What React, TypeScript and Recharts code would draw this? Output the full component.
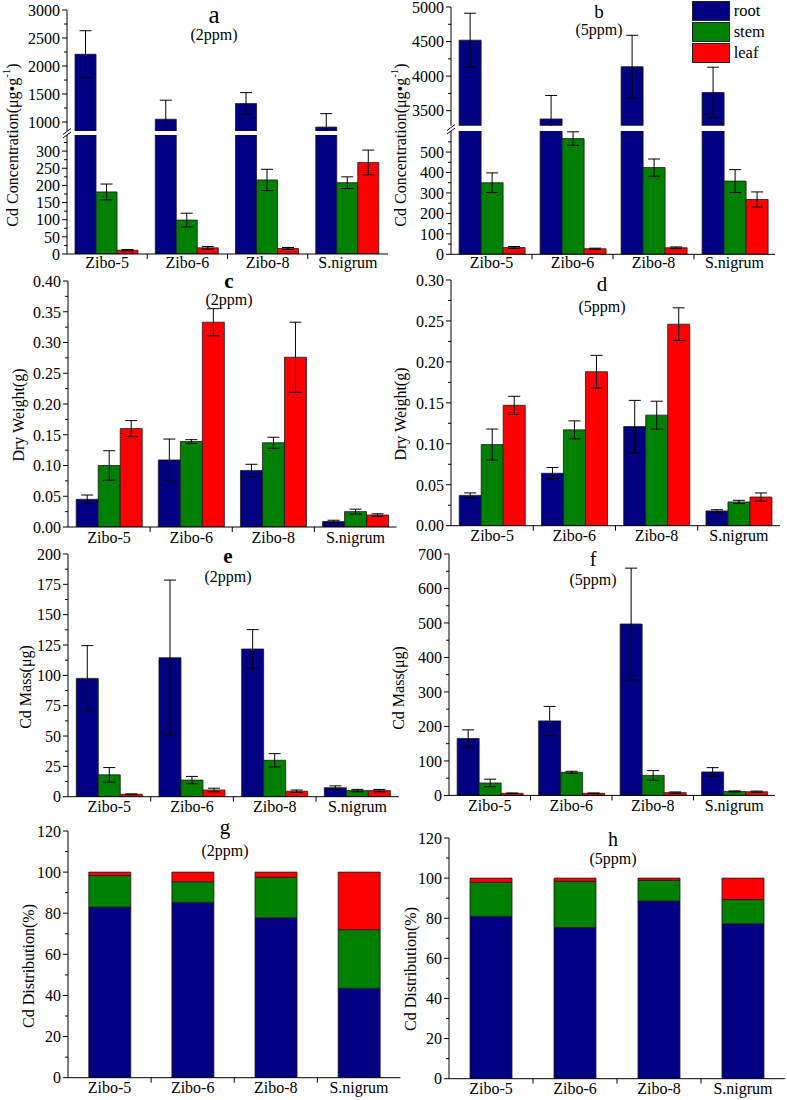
import React from "react";
import { BarChart, Bar, XAxis, YAxis, ErrorBar, Legend } from "recharts";

const FONT = '"Liberation Serif", "Times New Roman", serif';
const NAVY = "#000080";
const GREEN = "#008000";
const RED = "#ff0000";

const categories = ["Zibo-5", "Zibo-6", "Zibo-8", "S.nigrum"];

// a: Cd concentration, 2ppm (µg/g)
const concRoot2 = [2210, 1050, 1330, 910];
const concRoot2Err = [420, 340, 195, 240];
const concStem2 = [181, 99, 216, 208];
const concStem2Err = [23, 20, 31, 17];
const concLeaf2 = [11, 18, 16, 267];
const concLeaf2Err = [2, 4, 3, 36];

// b: Cd concentration, 5ppm
const concRoot5 = [4520, 3380, 4136, 3764];
const concRoot5Err = [390, 340, 455, 365];
const concStem5 = [350, 566, 424, 358];
const concStem5Err = [48, 33, 42, 56];
const concLeaf5 = [33, 27, 32, 268];
const concLeaf5Err = [5, 3, 4, 37];

// c / d: dry weight (g)
const dwRoot2 = [0.045, 0.109, 0.092, 0.009];
const dwRoot2Err = [0.007, 0.034, 0.01, 0.002];
const dwStem2 = [0.1, 0.139, 0.137, 0.025];
const dwStem2Err = [0.024, 0.003, 0.009, 0.004];
const dwLeaf2 = [0.16, 0.333, 0.276, 0.0195];
const dwLeaf2Err = [0.013, 0.022, 0.057, 0.002];

const dwRoot5 = [0.037, 0.064, 0.121, 0.018];
const dwRoot5Err = [0.003, 0.007, 0.032, 0.0015];
const dwStem5 = [0.099, 0.117, 0.135, 0.029];
const dwStem5Err = [0.019, 0.011, 0.017, 0.002];
const dwLeaf5 = [0.147, 0.188, 0.246, 0.035];
const dwLeaf5Err = [0.011, 0.02, 0.02, 0.005];

// e / f: Cd mass (µg)
const massRoot2 = [97.5, 114.5, 121.7, 7.4];
const massRoot2Err = [27, 64, 16, 1.5];
const massStem2 = [18, 13.7, 30, 5];
const massStem2Err = [6, 3, 5.5, 1];
const massLeaf2 = [2, 5.5, 4.5, 5];
const massLeaf2Err = [0.3, 1.5, 1, 1];

const massRoot5 = [165, 216, 497, 68];
const massRoot5Err = [25, 42, 162, 12.5];
const massStem5 = [36, 67, 58, 11.5];
const massStem5Err = [11, 3, 14, 1.5];
const massLeaf5 = [6, 6, 8, 10.5];
const massLeaf5Err = [1, 1, 2, 2];

// g / h: Cd distribution (%)
const distRoot2 = [83, 85.3, 77.8, 43.5];
const distStem2 = [15.3, 10, 19.7, 28.5];
const distLeaf2 = [1.7, 4.7, 2.5, 28];
const distRoot5 = [81, 75.4, 88.6, 77.3];
const distStem5 = [16.9, 23, 10.3, 12];
const distLeaf5 = [2.1, 1.6, 1.1, 10.7];

// tick labels
const ticksAUp = [1000, 1500, 2000, 2500, 3000];
const minorAUp = [1250, 1750, 2250, 2750];
const ticksALo = [0, 50, 100, 150, 200, 250, 300];
const minorALo = [25, 75, 125, 175, 225, 275, 325];
const ticksBUp = [3500, 4000, 4500, 5000];
const minorBUp = [3750, 4250, 4750];
const ticksBLo = [0, 100, 200, 300, 400, 500];
const minorBLo = [50, 150, 250, 350, 450, 550];
const ticksC = [0, 0.05, 0.1, 0.15, 0.2, 0.25, 0.3, 0.35, 0.4];
const minorC = [0.025, 0.075, 0.125, 0.175, 0.225, 0.275, 0.325, 0.375];
const ticksD = [0, 0.05, 0.1, 0.15, 0.2, 0.25, 0.3];
const minorD = [0.025, 0.075, 0.125, 0.175, 0.225, 0.275];
const ticksE = [0, 25, 50, 75, 100, 125, 150, 175, 200];
const minorE = [12.5, 37.5, 62.5, 87.5, 112.5, 137.5, 162.5, 187.5];
const ticksF = [0, 100, 200, 300, 400, 500, 600, 700];
const minorF = [50, 150, 250, 350, 450, 550, 650];
const ticksPct = [0, 20, 40, 60, 80, 100, 120];
const minorPct = [10, 30, 50, 70, 90, 110];

const SERIES = [
  { key: "root", name: "root", color: NAVY },
  { key: "stem", name: "stem", color: GREEN },
  { key: "leaf", name: "leaf", color: RED }
];

const rows = (r?: number[], s?: number[], l?: number[], re?: number[], se?: number[], le?: number[]) =>
  categories.map((cat, i) => ({
    cat,
    root: r ? r[i] : undefined,
    stem: s ? s[i] : undefined,
    leaf: l ? l[i] : undefined,
    rootErr: re ? re[i] : undefined,
    stemErr: se ? se[i] : undefined,
    leafErr: le ? le[i] : undefined
  }));

const YW = 60;
const PT = 12;
const PR = 2;
const XH = 28;

function yTick(majors: number[], fmt: (v: number) => string) {
  return (props: any) => {
    const { x, y, payload } = props;
    const ax = x + 8;
    const major = majors.includes(payload.value);
    return (
      <g>
        <line x1={ax - (major ? 5 : 3)} x2={ax} y1={y} y2={y} stroke="#000" strokeWidth={1} />
        {major && (
          <text x={ax - 7} y={y} dy="0.36em" textAnchor="end" fontSize={16} fontFamily={FONT} fill="#000">
            {fmt(payload.value)}
          </text>
        )}
      </g>
    );
  };
}

function xTick(band: number, gap: number) {
  return (props: any) => {
    const { x, y, payload, index } = props;
    const ay = y - gap;
    return (
      <g>
        {index > 0 && <line x1={x - band / 2} x2={x - band / 2} y1={ay} y2={ay + 5} stroke="#000" />}
        <text x={x} y={y - 0.8} dy="0.71em" textAnchor="middle" fontSize={16} fontFamily={FONT} fill="#000">
          {payload.value}
        </text>
      </g>
    );
  };
}

type Rect = { L: number; T: number; R: number; B: number };

function LegendBox(props: any) {
  const order = SERIES.map((s) => s.name);
  const items = [...(props.payload || [])].sort(
    (p: any, q: any) => order.indexOf(p.value) - order.indexOf(q.value)
  );
  return (
    <div style={{ fontFamily: FONT, fontSize: 16.5, lineHeight: 1 }}>
      {items.map((it: any) => (
        <div key={it.value} style={{ display: "flex", alignItems: "center", height: 21 }}>
          <div
            style={{
              width: 38,
              height: 19.5,
              background: it.color,
              border: "1px solid #222",
              boxSizing: "border-box"
            }}
          />
          <span style={{ marginLeft: 4 }}>{it.value}</span>
        </div>
      ))}
    </div>
  );
}

function Panel({
  rect,
  data,
  domain,
  majors,
  minors,
  fmt = (v: number) => String(v),
  errKeys = [],
  stacked = false,
  showX = true,
  xGap = 5,
  legendAt
}: {
  rect: Rect;
  data: any[];
  domain: [number, number];
  majors: number[];
  minors: number[];
  fmt?: (v: number) => string;
  errKeys?: (string | null)[];
  stacked?: boolean;
  showX?: boolean;
  xGap?: number;
  legendAt?: { x: number; y: number };
}) {
  const width = rect.R - rect.L + YW + PR;
  const height = rect.B - rect.T + PT + (showX ? XH : 0);
  const band = (rect.R - rect.L) / categories.length;
  const left = rect.L - YW;
  const top = rect.T - PT;
  return (
    <div style={{ position: "absolute", left, top, width, height }}>
      <BarChart
        width={width}
        height={height}
        data={data}
        margin={{ top: PT, right: PR, left: 0, bottom: 0 }}
        barGap={0}
        barCategoryGap={stacked ? "25%" : "10%"}
      >
        <XAxis
          dataKey="cat"
          hide={!showX}
          height={XH}
          axisLine={{ stroke: "#000" }}
          tickLine={false}
          tickSize={0}
          tickMargin={xGap}
          interval={0}
          tick={xTick(band, xGap)}
        />
        <YAxis
          width={YW}
          type="number"
          domain={domain}
          allowDataOverflow
          ticks={[...majors, ...minors]}
          interval={0}
          axisLine={{ stroke: "#000" }}
          tickLine={false}
          tickSize={0}
          tickMargin={8}
          tick={yTick(majors, fmt)}
        />
        {legendAt && (
          <Legend
            layout="horizontal"
            verticalAlign="middle"
            align="center"
            wrapperStyle={{ top: legendAt.y - top, left: legendAt.x - left, width: 95 }}
            content={(p: any) => <LegendBox payload={p.payload} />}
          />
        )}
        {SERIES.map((s, i) => (
          <Bar
            key={s.key}
            dataKey={s.key}
            name={s.name}
            fill={s.color}
            stroke="#1a1a1a"
            strokeWidth={0.8}
            stackId={stacked ? "dist" : undefined}
            isAnimationActive={false}
          >
            {errKeys[i] ? (
              <ErrorBar dataKey={errKeys[i] as string} width={6} stroke="#000" strokeWidth={1} direction="y" />
            ) : null}
          </Bar>
        ))}
      </BarChart>
    </div>
  );
}

const ERR = ["rootErr", "stemErr", "leafErr"];
const fmt2 = (v: number) => v.toFixed(2);

function Title({ x, letter, sub, yl, ys, bold = false, size = 21 }: any) {
  return (
    <g fontFamily={FONT} fill="#000" textAnchor="middle">
      <text x={x} y={yl} fontSize={size} fontWeight={bold ? "bold" : "normal"}>
        {letter}
      </text>
      <text x={x} y={ys} fontSize={16}>
        {sub}
      </text>
    </g>
  );
}

function YLabel({ x, y, children }: any) {
  return (
    <text
      x={x}
      y={y}
      transform={`rotate(-90, ${x}, ${y})`}
      textAnchor="middle"
      dominantBaseline="central"
      fontFamily={FONT}
      fontSize={16}
      fill="#000"
    >
      {children}
    </text>
  );
}

export default function App() {
  return (
    <div
      style={{
        position: "absolute",
        left: 0,
        top: 0,
        width: 787,
        height: 1100,
        background: "#fff",
        overflow: "hidden",
        fontFamily: FONT
      }}
    >
      {/* a */}
      <Panel
        rect={{ L: 67, T: 10, R: 388, B: 131 }}
        data={rows(concRoot2, undefined, undefined, concRoot2Err)}
        domain={[840, 3000]}
        majors={ticksAUp}
        minors={minorAUp}
        errKeys={["rootErr", null, null]}
        showX={false}
      />
      <Panel
        rect={{ L: 67, T: 135, R: 388, B: 254 }}
        data={rows(concRoot2, concStem2, concLeaf2, undefined, concStem2Err, concLeaf2Err)}
        domain={[0, 347]}
        majors={ticksALo}
        minors={minorALo}
        errKeys={[null, "stemErr", "leafErr"]}
        xGap={3}
      />
      {/* b */}
      <Panel
        rect={{ L: 451, T: 7.3, R: 775, B: 126 }}
        data={rows(concRoot5, undefined, undefined, concRoot5Err)}
        domain={[3283, 5000]}
        majors={ticksBUp}
        minors={minorBUp}
        errKeys={["rootErr", null, null]}
        showX={false}
        legendAt={{ x: 691.7, y: 0.5 }}
      />
      <Panel
        rect={{ L: 451, T: 130.7, R: 775, B: 254 }}
        data={rows(concRoot5, concStem5, concLeaf5, undefined, concStem5Err, concLeaf5Err)}
        domain={[0, 603]}
        majors={ticksBLo}
        minors={minorBLo}
        errKeys={[null, "stemErr", "leafErr"]}
        xGap={3}
      />
      {/* c */}
      <Panel
        rect={{ L: 67.5, T: 280.7, R: 396, B: 526.7 }}
        data={rows(dwRoot2, dwStem2, dwLeaf2, dwRoot2Err, dwStem2Err, dwLeaf2Err)}
        domain={[0, 0.4]}
        majors={ticksC}
        minors={minorC}
        fmt={fmt2}
        errKeys={ERR}
      />
      {/* d */}
      <Panel
        rect={{ L: 451, T: 280, R: 780, B: 525.7 }}
        data={rows(dwRoot5, dwStem5, dwLeaf5, dwRoot5Err, dwStem5Err, dwLeaf5Err)}
        domain={[0, 0.3]}
        majors={ticksD}
        minors={minorD}
        fmt={fmt2}
        errKeys={ERR}
      />
      {/* e */}
      <Panel
        rect={{ L: 67.7, T: 554, R: 398.5, B: 796.7 }}
        data={rows(massRoot2, massStem2, massLeaf2, massRoot2Err, massStem2Err, massLeaf2Err)}
        domain={[0, 200]}
        majors={ticksE}
        minors={minorE}
        errKeys={ERR}
      />
      {/* f */}
      <Panel
        rect={{ L: 449, T: 554.3, R: 775, B: 795.7 }}
        data={rows(massRoot5, massStem5, massLeaf5, massRoot5Err, massStem5Err, massLeaf5Err)}
        domain={[0, 700]}
        majors={ticksF}
        minors={minorF}
        errKeys={ERR}
      />
      {/* g */}
      <Panel
        rect={{ L: 67.5, T: 831, R: 400, B: 1077.7 }}
        data={rows(distRoot2, distStem2, distLeaf2)}
        domain={[0, 120]}
        majors={ticksPct}
        minors={minorPct}
        stacked
      />
      {/* h */}
      <Panel
        rect={{ L: 449, T: 838.3, R: 785, B: 1079 }}
        data={rows(distRoot5, distStem5, distLeaf5)}
        domain={[0, 120]}
        majors={ticksPct}
        minors={minorPct}
        stacked
      />

      <svg
        width={787}
        height={1100}
        style={{ position: "absolute", left: 0, top: 0, pointerEvents: "none" }}
      >
        <Title x={214} letter="a" sub="(2ppm)" yl={23} ys={40} size={25} />
        <Title x={599} letter="b" sub="(5ppm)" yl={17.5} ys={35} size={19} />
        <Title x={229} letter="c" sub="(2ppm)" yl={288} ys={305} bold />
        <Title x={602} letter="d" sub="(5ppm)" yl={291} ys={312} />
        <Title x={228} letter="e" sub="(2ppm)" yl={563} ys={582} bold />
        <Title x={593} letter="f" sub="(5ppm)" yl={566} ys={585} size={20} />
        <Title x={225} letter="g" sub="(2ppm)" yl={834} ys={856} />
        <Title x={613} letter="h" sub="(5ppm)" yl={845.5} ys={863.5} size={20} />

        <YLabel x={12} y={145}>
          Cd Concentration(μg•g<tspan dy={-6} fontSize={11}>-1</tspan>
          <tspan dy={6}>)</tspan>
        </YLabel>
        <YLabel x={400} y={145}>
          Cd Concentration(μg•g<tspan dy={-6} fontSize={11}>-1</tspan>
          <tspan dy={6}>)</tspan>
        </YLabel>
        <YLabel x={18} y={415}>Dry Weight(g)</YLabel>
        <YLabel x={400} y={414}>Dry Weight(g)</YLabel>
        <YLabel x={25} y={687}>Cd Mass(μg)</YLabel>
        <YLabel x={398} y={688}>Cd Mass(μg)</YLabel>
        <YLabel x={28} y={966}>Cd Distribution(%)</YLabel>
        <YLabel x={410} y={969}>Cd Distribution(%)</YLabel>

        {/* axis break marks */}
        <g stroke="#000" strokeWidth={1}>
          <line x1={63} y1={134.5} x2={71} y2={128.5} />
          <line x1={63} y1={138} x2={71} y2={132} />
          <line x1={447} y1={130.5} x2={455} y2={124.5} />
          <line x1={447} y1={134} x2={455} y2={128} />
        </g>
      </svg>
    </div>
  );
}
